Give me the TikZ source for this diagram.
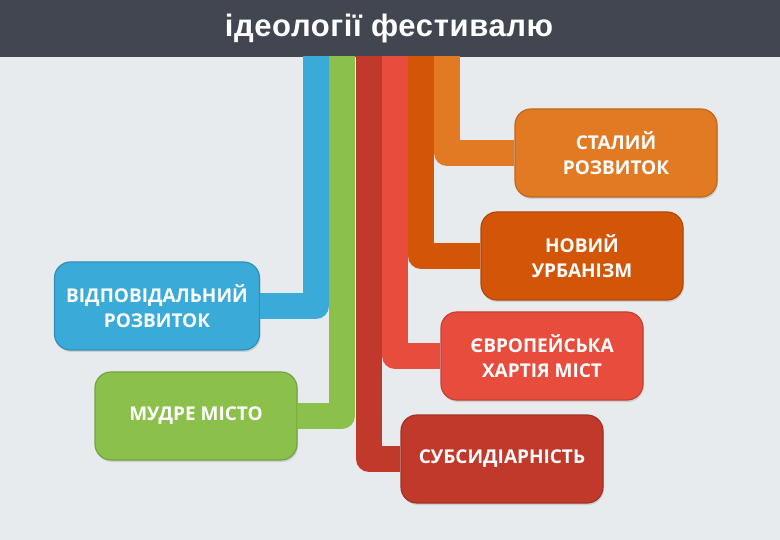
\documentclass[tikz,border=0pt]{standalone}
\usepackage{fontspec}
\setmainfont{Open Sans}
\newfontfamily\headfont[LetterSpace=2]{Liberation Sans}
\usetikzlibrary{shadows}
\definecolor{pagebg}{RGB}{232,235,238}
\definecolor{headgray}{RGB}{66,70,80}
\definecolor{ideablue}{RGB}{58,170,216}
\definecolor{ideagreen}{RGB}{139,192,74}
\definecolor{ideadarkred}{RGB}{192,57,43}
\definecolor{ideared}{RGB}{231,76,60}
\definecolor{ideadarkorange}{RGB}{211,86,8}
\definecolor{ideaorange}{RGB}{225,122,34}

\begin{document}
\begin{tikzpicture}[x=1pt,y=-1pt,
ideabox/.style={draw=#1!85!black,line width=1.2pt,fill=#1,rounded corners=16pt,align=center,text=white,
  minimum width=202pt,minimum height=88pt,font=\bfseries\fontsize{19}{25}\selectfont,
  drop shadow={opacity=0.25,shadow xshift=1pt,shadow yshift=-2pt}},
ideabar/.style={line width=26pt,line join=round,draw=#1}]
\useasboundingbox (0,0) rectangle (780,540);
\fill[pagebg] (0,0) rectangle (780,540);
\node[fill=headgray,anchor=north,minimum width=780pt,minimum height=57pt,inner sep=0pt] (header) at (390,0) {};
\node[text=white,font=\headfont\bfseries\fontsize{31}{34}\selectfont] (title) at (389,28) {ідеології фестивалю};

% boxes
\node[ideabox=ideaorange] (sustain) at (616,153) {СТАЛИЙ\\РОЗВИТОК};
\node[ideabox=ideadarkorange] (urban) at (582,256) {НОВИЙ\\УРБАНІЗМ};
\node[ideabox=ideared] (charter) at (542,356) {ЄВРОПЕЙСЬКА\\ХАРТІЯ МІСТ};
\node[ideabox=ideadarkred] (subsid) at (502,459) {СУБСИДІАРНІСТЬ};
\node[ideabox=ideablue,minimum width=205pt] (respons) at (157,306) {ВІДПОВІДАЛЬНИЙ\\РОЗВИТОК};
\node[ideabox=ideagreen] (smart) at (196,416) {МУДРЕ МІСТО};

% bars from the header
\coordinate (blueTop) at (316,56);
\coordinate (greenTop) at (342,56);
\coordinate (darkredTop) at (369,56);
\coordinate (redTop) at (395,56);
\coordinate (darkorangeTop) at (421,56);
\coordinate (orangeTop) at (447,56);
\draw[ideabar=ideablue] (blueTop) |- (respons.east);
\draw[ideabar=ideagreen] (greenTop) |- (smart.east);
\draw[ideabar=ideadarkred] (darkredTop) |- (subsid.west);
\draw[ideabar=ideared] (redTop) |- (charter.west);
\draw[ideabar=ideadarkorange] (darkorangeTop) |- (urban.west);
\draw[ideabar=ideaorange] (orangeTop) |- (sustain.west);
\end{tikzpicture}
\end{document}
